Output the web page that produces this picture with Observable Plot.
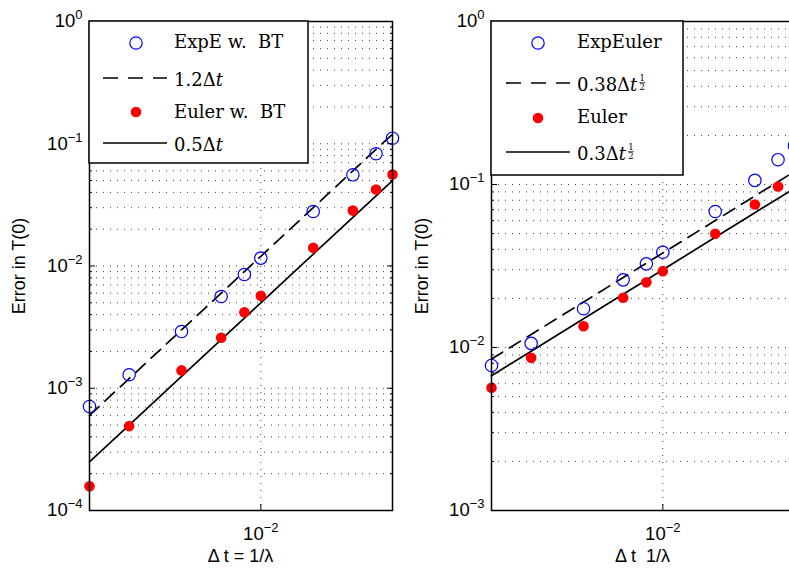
<!DOCTYPE html>
<html>
<head>
<meta charset="utf-8">
<script src="https://cdn.jsdelivr.net/npm/d3@7"></script>
<script src="https://cdn.jsdelivr.net/npm/@observablehq/plot@0.6"></script>
<style>
html, body { margin: 0; padding: 0; background: #fff; overflow: hidden; }
#wrap { position: relative; width: 789px; height: 572px; overflow: hidden; background: #fff; }
.panel { position: absolute; top: 0; }
.ylab, .xlab { position: absolute; font-family: "Liberation Sans", Arial, sans-serif; font-size: 18px; white-space: pre; color: #000; }
.ylab { transform: translate(-50%, -50%) rotate(-90deg); }
.xlab { transform: translate(-50%, -50%); }
</style>
</head>
<body>
<div id="wrap"></div>
<script>
// ---- data ----
const dt = [0.0005, 0.001, 0.0025, 0.005, 0.0075, 0.01, 0.025, 0.05, 0.075, 0.1];
const errExpEBT   = [7.1e-4, 1.29e-3, 2.91e-3, 5.63e-3, 8.52e-3, 1.16e-2, 2.79e-2, 5.57e-2, 8.28e-2, 0.111];
const errEulerBT  = [1.58e-4, 4.9e-4, 1.40e-3, 2.59e-3, 4.19e-3, 5.7e-3, 1.41e-2, 2.84e-2, 4.22e-2, 5.6e-2];
const errExpEuler = [7.76e-3, 1.06e-2, 1.73e-2, 2.60e-2, 3.26e-2, 3.84e-2, 6.83e-2, 0.106, 0.142, 0.173];
const errEuler    = [5.66e-3, 8.64e-3, 1.35e-2, 2.02e-2, 2.51e-2, 2.94e-2, 4.99e-2, 7.54e-2, 9.72e-2, 0.117];
const yTicksLeft  = [1e-4, 1e-3, 1e-2, 1e-1, 1];
const yTicksRight = [1e-3, 1e-2, 1e-1, 1];
const xTicks = [1e-2];
// reference slopes: coefficient * dt^power
const refLeft  = {dashed: 1.2,  solid: 0.5, power: 1};
const refRight = {dashed: 0.38, solid: 0.3, power: 0.5};
const legendLeftLabels  = ["ExpE w. BT", "1.2Δt", "Euler w. BT", "0.5Δt"];
const legendRightLabels = ["ExpEuler", "0.38Δt½", "Euler", "0.3Δt½"];
const xLabels = ["Δ t = 1/λ", "Δ t  1/λ"];
const yLabel = "Error in T(0)";

const BLUE = "#0000ff", RED = "#ff0000";
const PLOT_W = 303;
const SANS = "Liberation Sans";
const TICK_FS = 18.5;

function minorTicks(domain) {
  const out = [];
  const lo = Math.round(Math.log10(domain[0])), hi = Math.round(Math.log10(domain[1]));
  for (let e = lo; e < hi; e++) for (let m = 2; m <= 9; m++) out.push(m * Math.pow(10, e));
  return out;
}

function panel({yTicks, exp, eul, ref, marginLeft, width}) {
  const yDomain = [yTicks[0], yTicks[yTicks.length - 1]];
  const minors = minorTicks(yDomain);
  const lineData = dt.map(d => ({x: d, dashed: ref.dashed * Math.pow(d, ref.power), solid: ref.solid * Math.pow(d, ref.power)}));
  const expData = dt.map((d, i) => ({x: d, y: exp[i]}));
  const eulData = dt.map((d, i) => ({x: d, y: eul[i]}));
  const fmt = d => "10^" + Math.round(Math.log10(d));
  const grid = {stroke: "#000", strokeOpacity: 0.75, strokeWidth: 1, strokeDasharray: "1,6"};
  const none = () => "";
  const marks = [
    Plot.gridY([...minors, ...yTicks.slice(1, -1)], grid),
    Plot.gridX(xTicks, grid),
    Plot.line(lineData, {x: "x", y: "dashed", stroke: "#000", strokeWidth: 1.7, strokeDasharray: "13,8"}),
    Plot.line(lineData, {x: "x", y: "solid", stroke: "#000", strokeWidth: 1.7}),
    Plot.dot(expData, {x: "x", y: "y", r: 6.2, stroke: BLUE, strokeWidth: 1.2, fill: "none"}),
    Plot.dot(eulData, {x: "x", y: "y", r: 5.3, fill: RED, stroke: "none"}),
    // inward ticks on all four sides
    Plot.axisY(yTicks, {anchor: "left", tickSize: -6, tickFormat: none, label: null}),
    Plot.axisY(minors, {anchor: "left", tickSize: -3, tickFormat: none, label: null}),
    Plot.axisY(yTicks, {anchor: "right", tickSize: -6, tickFormat: none, label: null}),
    Plot.axisY(minors, {anchor: "right", tickSize: -3, tickFormat: none, label: null}),
    Plot.axisX(xTicks, {anchor: "bottom", tickSize: -6, tickFormat: none, label: null}),
    Plot.axisX(xTicks, {anchor: "top", tickSize: -6, tickFormat: none, label: null}),
    // tick labels
    Plot.axisY(yTicks, {anchor: "left", tickSize: 0, tickPadding: 7, tickFormat: fmt, label: null, fontSize: TICK_FS, fontFamily: SANS}),
    Plot.axisX(xTicks, {anchor: "bottom", tickSize: 0, tickPadding: 16, tickFormat: fmt, label: null, fontSize: TICK_FS, fontFamily: SANS}),
    Plot.frame({stroke: "#000", strokeWidth: 1.5})
  ];
  return Plot.plot({
    width, height: 572,
    marginLeft, marginRight: width - marginLeft - PLOT_W, marginTop: 21, marginBottom: 62,
    style: {fontFamily: SANS, fontSize: TICK_FS + "px", background: "transparent", overflow: "visible", color: "#000"},
    x: {type: "log", domain: [dt[0], dt[dt.length - 1]]},
    y: {type: "log", domain: yDomain},
    marks
  });
}

function supify(svg) {
  const ns = "http://www.w3.org/2000/svg";
  svg.querySelectorAll("text").forEach(t => {
    const m = /^10\^(-?\d+)$/.exec(t.textContent);
    if (!m) return;
    while (t.firstChild) t.removeChild(t.firstChild);
    t.setAttribute("font-family", SANS);
    t.style.fontSize = TICK_FS + "px";
    const a = document.createElementNS(ns, "tspan"); a.textContent = "10"; t.appendChild(a);
    const b = document.createElementNS(ns, "tspan");
    b.textContent = m[1].replace("-", "\u2212");
    b.setAttribute("dy", "-8"); b.style.fontSize = "13px";
    t.appendChild(b);
  });
}

function legend(parent, box, rows, labels) {
  const svg = d3.select(parent).append("svg")
    .attr("width", box.w + 4).attr("height", box.h + 4)
    .style("position", "absolute").style("left", (box.x - 2) + "px").style("top", (box.y - 2) + "px");
  const g = svg.append("g").attr("transform", "translate(2,2)");
  g.append("rect").attr("width", box.w).attr("height", box.h).attr("fill", "#fff").attr("stroke", "#000").attr("stroke-width", 1.5);
  rows.forEach((r, i) => {
    if (r.sym === "circle") g.append("circle").attr("cx", box.sx).attr("cy", r.cy).attr("r", 6.2).attr("fill", "none").attr("stroke", BLUE).attr("stroke-width", 1.2);
    if (r.sym === "dot") g.append("circle").attr("cx", box.sx).attr("cy", r.cy).attr("r", 5.3).attr("fill", RED);
    if (r.sym === "dash" || r.sym === "solid") g.append("line").attr("x1", box.lx1).attr("x2", box.lx2).attr("y1", r.cy).attr("y2", r.cy)
      .attr("stroke", "#000").attr("stroke-width", 1.7).attr("stroke-dasharray", r.sym === "dash" ? "15,10" : null);
    let label = labels[i];
    const frac = label.endsWith("½");
    if (frac) label = label.slice(0, -1);
    const t = g.append("text").attr("x", box.tx).attr("y", r.base)
      .attr("font-family", "'DejaVu Serif', serif").attr("font-size", 18);
    const ti = label.indexOf("Δt");
    if (ti >= 0) {
      t.append("tspan").text(label.slice(0, ti + 1));
      t.append("tspan").attr("font-style", "italic").text("t");
    } else {
      t.append("tspan").attr("xml:space", "preserve").text(label.replace(" BT", "  BT"));
    }
    if (frac) {
      const w = t.node().getComputedTextLength();
      const fx = box.tx + w + 5;
      const ff = {"font-family": "'DejaVu Serif', serif", "font-size": 8.5, "text-anchor": "middle"};
      const n = g.append("text").attr("x", fx).attr("y", r.base - 10).text("1");
      const d = g.append("text").attr("x", fx).attr("y", r.base - 1).text("2");
      [n, d].forEach(s => Object.entries(ff).forEach(([k, v]) => s.attr(k, v)));
      g.append("line").attr("x1", fx - 3).attr("x2", fx + 3).attr("y1", r.base - 8.3).attr("y2", r.base - 8.3).attr("stroke", "#000").attr("stroke-width", 0.7);
    }
  });
}

const wrap = document.getElementById("wrap");

const left = panel({yTicks: yTicksLeft, exp: errExpEBT, eul: errEulerBT, ref: refLeft, marginLeft: 89, width: 400});
left.classList.add("panel"); left.style.left = "0px";
wrap.appendChild(left); supify(left);

const right = panel({yTicks: yTicksRight, exp: errExpEuler, eul: errEuler, ref: refRight, marginLeft: 91, width: 400});
right.classList.add("panel"); right.style.left = "400px";
wrap.appendChild(right); supify(right);

legend(wrap, {x: 89, y: 21, w: 219, h: 142, sx: 47, lx1: 14, lx2: 78, tx: 85},
  [{sym: "circle", cy: 22, base: 27}, {sym: "dash", cy: 57, base: 65}, {sym: "dot", cy: 91, base: 97}, {sym: "solid", cy: 122, base: 130}],
  legendLeftLabels);
legend(wrap, {x: 491, y: 21, w: 192, h: 154, sx: 47, lx1: 15, lx2: 79, tx: 86},
  [{sym: "circle", cy: 22, base: 27}, {sym: "dash", cy: 62, base: 70}, {sym: "dot", cy: 97, base: 102}, {sym: "solid", cy: 131, base: 139}],
  legendRightLabels);

function addLabel(cls, text, x, y) {
  const el = document.createElement("div");
  el.className = cls; el.textContent = text;
  el.style.left = x + "px"; el.style.top = y + "px";
  wrap.appendChild(el);
}
addLabel("ylab", yLabel, 19, 265.5);
addLabel("ylab", yLabel, 422, 265.5);
addLabel("xlab", xLabels[0], 240.5, 556);
addLabel("xlab", xLabels[1], 642.5, 556);
</script>
</body>
</html>
